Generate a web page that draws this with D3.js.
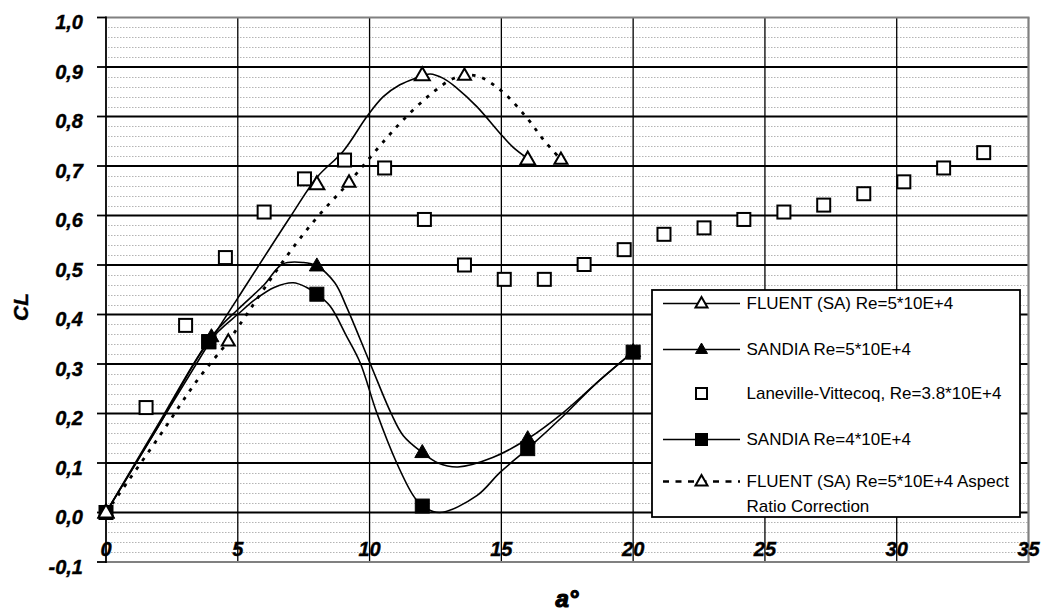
<!DOCTYPE html>
<html><head><meta charset="utf-8">
<script src="https://cdn.jsdelivr.net/npm/d3@7"></script>
<style>body{margin:0;background:#fff}svg{display:block}</style>
</head><body>
<svg id="c" width="1045" height="614"></svg>
<script>
// ---- data ----
const xTicks = [0,5,10,15,20,25,30,35];
const yTicks = [-0.1,0,0.1,0.2,0.3,0.4,0.5,0.6,0.7,0.8,0.9,1.0];
const yTickLabels = ["-0,1","0,0","0,1","0,2","0,3","0,4","0,5","0,6","0,7","0,8","0,9","1,0"];
const seriesNames = ["FLUENT (SA) Re=5*10E+4","SANDIA Re=5*10E+4","Laneville-Vittecoq, Re=3.8*10E+4","SANDIA Re=4*10E+4","FLUENT (SA) Re=5*10E+4 Aspect|Ratio Correction"];

// FLUENT (SA) Re=5E4 : markers + smoothed line
const fluentA  = [0,4,8,12,16];
const fluentCL = [0,0.35,0.663,0.883,0.713];
const fluentLineA  = [0,4,5,7,8,9,9.9,10.52,11.15,11.72,12.3,12.8,13.3,14.07,15.05,15.46,16];
const fluentLineCL = [0,0.35,0.433,0.598,0.677,0.73,0.8,0.84,0.864,0.877,0.886,0.877,0.858,0.82,0.76,0.737,0.715];

// SANDIA Re=5E4
const sandia5A  = [0,4,8,12,16,20];
const sandia5CL = [0,0.355,0.498,0.121,0.149,0.325];
const sandia5LineA  = [0,2,4,5,6,6.7,7.5,8,8.68,9.13,10.03,10.82,11.28,12,12.6,13.35,14.67,16,17.35,18.62,20];
const sandia5LineCL = [0,0.18,0.355,0.41,0.46,0.502,0.505,0.498,0.464,0.415,0.3,0.2,0.155,0.121,0.1,0.092,0.111,0.149,0.202,0.262,0.325];

// Laneville-Vittecoq Re=3.8E4
const laneA  = [1.52,3.02,4.53,6.0,7.53,9.05,10.57,12.08,13.6,15.11,16.63,18.14,19.66,21.17,22.69,24.2,25.72,27.23,28.75,30.27,31.78,33.3];
const laneCL = [0.212,0.378,0.515,0.607,0.674,0.712,0.696,0.592,0.50,0.471,0.471,0.501,0.531,0.562,0.575,0.592,0.607,0.621,0.644,0.668,0.696,0.727];

// SANDIA Re=4E4
const sandia4A  = [0,3.9,8,12,16,20];
const sandia4CL = [0,0.345,0.441,0.013,0.129,0.324];
const sandia4LineA  = [0,2,3.9,5.08,5.65,6.4,7.1,7.6,8,8.5,9.13,9.64,10.27,11.03,11.66,12,12.67,14.07,14.95,16,17.35,18.62,20];
const sandia4LineCL = [0,0.175,0.345,0.404,0.43,0.455,0.464,0.455,0.441,0.417,0.356,0.303,0.202,0.1,0.034,0.013,0.0,0.034,0.081,0.129,0.195,0.262,0.324];

// FLUENT (SA) Re=5E4 Aspect Ratio Correction
const arA  = [0,4.64,9.22,13.6,17.26];
const arCL = [0,0.346,0.667,0.883,0.713];
const arLineA  = [0,1.96,3.46,4.64,5.08,6.86,7.99,9.22,10.59,11.22,12.23,13.24,14.07,15.02,15.97,16.6,17.26];
const arLineCL = [0,0.149,0.267,0.346,0.38,0.518,0.595,0.667,0.753,0.79,0.841,0.878,0.882,0.851,0.797,0.753,0.713];

// ---- drawing ----
const svg = d3.select("#c");
const FONT = "'Liberation Sans', Arial, sans-serif";
const x = d3.scaleLinear().domain([0,35]).range([106,1028.5]);
const y = d3.scaleLinear().domain([-0.1,1.0]).range([562,17.5]);
const zip = (a,b) => a.map((v,i)=>[v,b[i]]);

const g = svg.append("g");
// minor dotted gridlines
const minor = d3.range(-50,51).map(i=>i/50).filter(v=>v>-0.1+1e-9 && v<1.0-1e-9 && Math.abs(v*10-Math.round(v*10))>1e-6);
g.selectAll("line.minor").data(minor).join("line")
  .attr("x1",x(0)+2).attr("x2",x(35)-1).attr("y1",d=>Math.round(y(d))+0.5).attr("y2",d=>Math.round(y(d))+0.5)
  .attr("stroke","#b4b4b4").attr("stroke-width",1).attr("stroke-dasharray","1.5,1.5");
// major horizontal gridlines
g.selectAll("line.major").data(yTicks.filter(v=>v>-0.1 && v<1.0)).join("line")
  .attr("x1",x(0)).attr("x2",x(35)).attr("y1",d=>y(d)).attr("y2",d=>y(d))
  .attr("stroke","#000").attr("stroke-width",1.8);
// vertical gridlines
g.selectAll("line.vg").data(xTicks.filter(v=>v>0 && v<35)).join("line")
  .attr("x1",d=>x(d)).attr("x2",d=>x(d)).attr("y1",y(1.0)).attr("y2",y(-0.1))
  .attr("stroke","#000").attr("stroke-width",1.3);
// borders
g.append("line").attr("x1",x(0)).attr("x2",x(35)+1).attr("y1",y(1.0)).attr("y2",y(1.0)).attr("stroke","#808080").attr("stroke-width",2.2);
g.append("line").attr("x1",x(0)).attr("x2",x(35)+1).attr("y1",y(-0.1)).attr("y2",y(-0.1)).attr("stroke","#808080").attr("stroke-width",2.2);
g.append("line").attr("x1",x(35)).attr("x2",x(35)).attr("y1",y(1.0)).attr("y2",y(-0.1)).attr("stroke","#808080").attr("stroke-width",2.2);
// y axis
g.append("line").attr("x1",x(0)).attr("x2",x(0)).attr("y1",y(1.0)-1).attr("y2",y(-0.1)+1).attr("stroke","#000").attr("stroke-width",1.8);
g.selectAll("line.yt").data(yTicks).join("line")
  .attr("x1",x(0)-9).attr("x2",x(0)).attr("y1",d=>y(d)).attr("y2",d=>y(d)).attr("stroke","#000").attr("stroke-width",1.8);
// y tick labels
g.selectAll("text.yl").data(yTicks).join("text")
  .attr("x",83).attr("y",d=>y(d)+4.5).attr("text-anchor","end").attr("dominant-baseline","central")
  .attr("font-family",FONT).attr("font-weight","bold").attr("font-style","italic").attr("font-size",20)
  .attr("stroke","#000").attr("stroke-width",0.4)
  .attr("fill","#000").text((d,i)=>yTickLabels[i]);
// x tick labels (inside plot)
g.selectAll("text.xl").data(xTicks).join("text")
  .attr("x",d=>x(d)).attr("y",556).attr("text-anchor","middle")
  .attr("font-family",FONT).attr("font-weight","bold").attr("font-style","italic").attr("font-size",20)
  .attr("stroke","#000").attr("stroke-width",0.4)
  .attr("fill","#000").text(d=>d);
// axis titles
svg.append("text").attr("transform","translate(20,307) rotate(-90)").attr("text-anchor","middle").attr("dominant-baseline","central")
  .attr("font-family",FONT).attr("font-weight","bold").attr("font-style","italic").attr("font-size",21)
  .attr("stroke","#000").attr("stroke-width",0.4).text("CL");
svg.append("text").attr("x",567).attr("y",607).attr("text-anchor","middle")
  .attr("font-family",FONT).attr("font-weight","bold").attr("font-style","italic").attr("font-size",24)
  .attr("stroke","#000").attr("stroke-width",1.2).text("a°");

// lines
const line = d3.line().x(d=>x(d[0])).y(d=>y(d[1])).curve(d3.curveCatmullRom.alpha(0.5));
const lg = svg.append("g").attr("fill","none").attr("stroke","#000");
lg.append("path").attr("d",line(zip(sandia4LineA,sandia4LineCL))).attr("stroke-width",1.6);
lg.append("path").attr("d",line(zip(sandia5LineA,sandia5LineCL))).attr("stroke-width",1.6);
lg.append("path").attr("d",line(zip(fluentLineA,fluentLineCL))).attr("stroke-width",1.6);
lg.append("path").attr("d",line(zip(arLineA,arLineCL))).attr("stroke-width",2.8).attr("stroke-dasharray","3.5,7");

// marker helpers
function tri(sel, w, filled){
  const h = w*0.87;
  return sel.append("path").attr("d",`M0,${-h*0.62}L${w/2},${h*0.38}L${-w/2},${h*0.38}Z`)
    .attr("fill",filled?"#000":"#fff").attr("stroke","#000").attr("stroke-width",filled?1:2).attr("stroke-linejoin","miter");
}
function sq(sel, w, filled){
  return sel.append("rect").attr("x",-w/2).attr("y",-w/2).attr("width",w).attr("height",w)
    .attr("fill",filled?"#000":"#fff").attr("stroke","#000").attr("stroke-width",filled?1:2);
}
const mg = svg.append("g");
zip(laneA,laneCL).forEach(d=>sq(mg.append("g").attr("transform",`translate(${x(d[0])},${y(d[1])})`),13,false));
zip(sandia4A,sandia4CL).forEach(d=>sq(mg.append("g").attr("transform",`translate(${x(d[0])},${y(d[1])})`),14,true));
zip(sandia5A,sandia5CL).forEach(d=>tri(mg.append("g").attr("transform",`translate(${x(d[0])},${y(d[1])})`),15,true));
zip(arA,arCL).forEach(d=>tri(mg.append("g").attr("transform",`translate(${x(d[0])},${y(d[1])})`),13,false));
zip(fluentA,fluentCL).forEach((d,i)=>{ if(i===1) return; tri(mg.append("g").attr("transform",`translate(${x(d[0])},${y(d[1])})`),15,false);});
// SANDIA 4E4 square at alpha 4 drawn over hollow markers
sq(mg.append("g").attr("transform",`translate(${x(sandia4A[1])},${y(sandia4CL[1])})`),14,true);
tri(mg.append("g").attr("transform",`translate(${x(0)},${y(0)})`),15,false);

// legend
const L = svg.append("g");
L.append("rect").attr("x",652).attr("y",290).attr("width",368).attr("height",227).attr("fill","#fff").attr("stroke","#000").attr("stroke-width",1.8);
const rows = [303.5,349.5,393.5,439.5,481.5];
const kinds = ["triH","triF","sqH","sqF","dash"];
rows.forEach((ry,i)=>{
  const r = L.append("g");
  if(kinds[i]!=="sqH"){
    r.append("line").attr("x1",663).attr("x2",740).attr("y1",ry).attr("y2",ry).attr("stroke","#000")
      .attr("stroke-width",kinds[i]==="dash"?2.6:1.6).attr("stroke-dasharray",kinds[i]==="dash"?"6,6.5":null);
  }
  const m = r.append("g").attr("transform",`translate(701.5,${ry})`);
  if(kinds[i]==="triH"||kinds[i]==="dash") tri(m,12,false);
  if(kinds[i]==="triF") tri(m,12,true);
  if(kinds[i]==="sqH") sq(m,11,false);
  if(kinds[i]==="sqF") sq(m,12,true);
  const parts = seriesNames[i].split("|");
  parts.forEach((p,j)=>{
    r.append("text").attr("x",746.5).attr("y",ry+j*24.5).attr("dominant-baseline","central")
      .attr("font-family",FONT).attr("font-size",17).attr("fill","#000").text(p);
  });
});
</script>
</body></html>
